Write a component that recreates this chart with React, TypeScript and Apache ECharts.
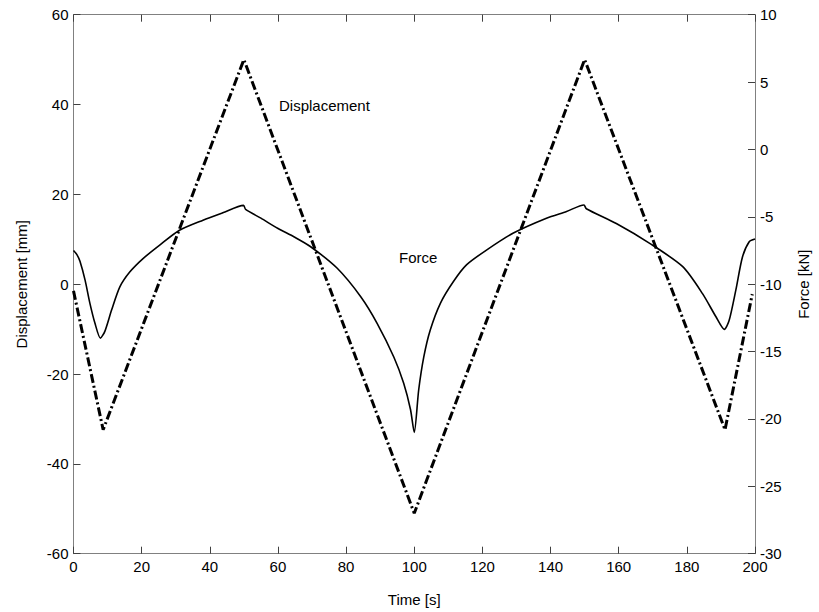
import React, { useEffect, useRef } from "react";
import * as echarts from "echarts";

const timeTicks = [0, 20, 40, 60, 80, 100, 120, 140, 160, 180, 200];

// Displacement [mm] vs time [s]
const dispTime = [0, 8.7, 50, 100, 150, 191.2, 199.2];
const dispValues = [-1.5, -32.4, 50, -51, 50, -32.4, -2.2];

// Force [kN] vs time [s]
const forceTime = [
  0, 1.0, 1.9, 3.4, 4.8, 6.3, 7.9, 9.2, 11.2, 13.6, 16.5, 20.4, 25.3, 31.1, 38, 43.8, 49.9,
  50.5, 55, 59.9, 64.8, 69.6, 77.4, 84.3, 89.1, 94, 96.9, 98.9, 100,
  101.3, 102.8, 104.7, 107.7, 111.5, 115.4, 121.3, 129.1, 138.8, 144.7, 149.8,
  150.5, 159.3, 169.1, 178.8, 184.6, 188.5, 191, 192.4, 194.4, 196.3, 198.3, 200,
];
const forceValues = [
  -7.5, -7.8, -8.3, -9.7, -11.4, -12.9, -14.0, -13.5, -11.9, -10.2, -9.1, -8.1, -7.1, -6.0, -5.25, -4.7, -4.15,
  -4.45, -5.1, -5.85, -6.5, -7.22, -8.82, -10.93, -12.9, -15.4, -17.35, -19.3, -21.0,
  -17.85, -15.4, -13.4, -11.4, -9.8, -8.55, -7.45, -6.2, -5.1, -4.6, -4.12,
  -4.4, -5.5, -6.97, -8.7, -10.7, -12.4, -13.35, -12.7, -10.4, -8.0, -6.85, -6.65,
];

const FONT = "Liberation Sans, Arial, sans-serif";

export default function App() {
  const ref = useRef<HTMLDivElement>(null);
  useEffect(() => {
    if (!ref.current) return;
    const chart = echarts.init(ref.current, null, { renderer: "svg" });
    const axisLineStyle = { color: "#808080", width: 1 };
    const tickStyle = { color: "#404040", width: 1 };
    const labelStyle = { color: "#000", fontSize: 15, fontFamily: FONT };
    const nameStyle = { color: "#000", fontSize: 15, fontFamily: FONT };
    chart.setOption({
      animation: false,
      backgroundColor: "#fff",
      grid: { left: 73.5, right: 61.3, top: 14.7, bottom: 58.3, containLabel: false },
      xAxis: [
        {
          type: "value",
          min: timeTicks[0],
          max: timeTicks[timeTicks.length - 1],
          interval: 20,
          position: "bottom",
          axisLine: { show: true, onZero: false, lineStyle: axisLineStyle },
          axisTick: { show: true, inside: true, length: 7, lineStyle: tickStyle },
          axisLabel: { ...labelStyle, margin: 5 },
          splitLine: { show: false },
          name: "Time [s]",
          nameLocation: "middle",
          nameGap: 38,
          nameTextStyle: nameStyle,
        },
        {
          type: "value",
          min: timeTicks[0],
          max: timeTicks[timeTicks.length - 1],
          interval: 20,
          position: "top",
          axisLine: { show: true, onZero: false, lineStyle: axisLineStyle },
          axisTick: { show: true, inside: true, length: 7, lineStyle: tickStyle },
          axisLabel: { show: false },
          splitLine: { show: false },
        },
      ],
      yAxis: [
        {
          type: "value",
          min: -60,
          max: 60,
          interval: 20,
          position: "left",
          axisLine: { show: true, onZero: false, lineStyle: axisLineStyle },
          axisTick: { show: true, inside: true, length: 7, lineStyle: tickStyle },
          axisLabel: { ...labelStyle, margin: 5 },
          splitLine: { show: false },
          name: "Displacement [mm]",
          nameLocation: "middle",
          nameRotate: 90,
          nameGap: 45,
          nameTextStyle: nameStyle,
        },
        {
          type: "value",
          min: -30,
          max: 10,
          interval: 5,
          position: "right",
          axisLine: { show: true, onZero: false, lineStyle: axisLineStyle },
          axisTick: { show: true, inside: true, length: 7, lineStyle: tickStyle },
          axisLabel: { ...labelStyle, margin: 5 },
          splitLine: { show: false },
          name: "Force [kN]",
          nameLocation: "middle",
          nameRotate: 90,
          nameGap: 41,
          nameTextStyle: nameStyle,
        },
      ],
      series: [
        {
          name: "Displacement",
          type: "line",
          xAxisIndex: 0,
          yAxisIndex: 0,
          data: dispTime.map((t, i) => [t, dispValues[i]]),
          symbol: "none",
          showSymbol: false,
          lineStyle: { color: "#000", width: 3, type: [9, 3, 2, 3], cap: "butt" },
          z: 3,
        },
        {
          name: "Force",
          type: "line",
          xAxisIndex: 0,
          yAxisIndex: 1,
          data: forceTime.map((t, i) => [t, forceValues[i]]),
          symbol: "none",
          showSymbol: false,
          smooth: 0.25,
          lineStyle: { color: "#000", width: 1.6 },
          z: 4,
        },
      ],
      graphic: [
        {
          type: "text",
          x: 279,
          y: 105,
          style: { text: "Displacement", fill: "#000", font: `15px ${FONT}`, verticalAlign: "middle" },
        },
        {
          type: "text",
          x: 399,
          y: 257,
          style: { text: "Force", fill: "#000", font: `15px ${FONT}`, verticalAlign: "middle" },
        },
      ],
    });
    return () => chart.dispose();
  }, []);
  return (
    <div
      ref={ref}
      style={{ position: "absolute", left: 0, top: 0, width: 819, height: 612, background: "#fff" }}
    />
  );
}
